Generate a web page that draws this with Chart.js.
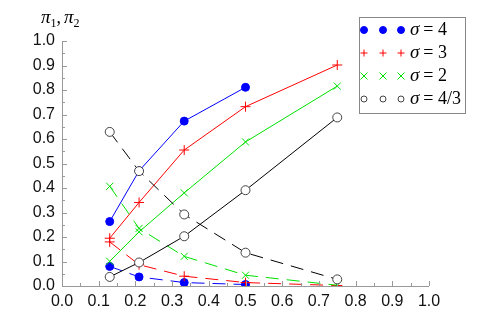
<!DOCTYPE html>
<html>
<head>
<meta charset="utf-8">
<script src="https://cdn.jsdelivr.net/npm/chart.js@4"></script>
<style>
  body { margin: 0; background: #fff; }
  #wrap { width: 491px; height: 327px; }
</style>
</head>
<body>
<div id="wrap"><canvas id="grafico" width="491" height="327"></canvas></div>
<script>
// x positions of the points
const xVals = [0.13, 0.21, 0.333, 0.5, 0.75];

// pi_1 (solid) and pi_2 (dashed) for each sigma
const pi1_s4 = [0.263, 0.47, 0.673, 0.811];
const pi2_s4 = [0.080, 0.037, 0.014, 0.006];
const pi1_s3 = [0.195, 0.341, 0.555, 0.732, 0.902];
const pi2_s3 = [0.180, 0.087, 0.040, 0.014, 0.002];
const pi1_s2 = [0.101, 0.221, 0.380, 0.588, 0.816];
const pi2_s2 = [0.407, 0.235, 0.121, 0.044, 0.003];
const pi1_s43 = [0.037, 0.096, 0.203, 0.391, 0.688];
const pi2_s43 = [0.629, 0.469, 0.292, 0.136, 0.027];

const legendLabels = ['= 4', '= 3', '= 2', '= 4/3'];

function pares(ys) {
  return ys.map((y, i) => ({ x: xVals[i], y: y }));
}

const estilos = [
  { color: '#0000ff', pointStyle: 'circle', radius: 4, fill: '#0000ff' },
  { color: '#ff0000', pointStyle: 'cross', radius: 5, fill: '#ff0000' },
  { color: '#00e000', pointStyle: 'crossRot', radius: 5, fill: '#00e000' },
  { color: '#000000', pointStyle: 'circle', radius: 4.5, fill: '#ffffff' }
];

const series = [[pi1_s4, pi2_s4], [pi1_s3, pi2_s3], [pi1_s2, pi2_s2], [pi1_s43, pi2_s43]];

const serif = '"Liberation Serif", "DejaVu Serif", serif';

const datasets = [];
series.forEach((par, k) => {
  const e = estilos[k];
  par.forEach((ys, j) => {
    datasets.push({
      data: pares(ys),
      showLine: true,
      order: 10 - k,   // black on top
      borderColor: e.color,
      borderWidth: 1,
      borderDash: j === 1 ? [13, 8] : [],
      pointStyle: e.pointStyle,
      pointRadius: e.radius,
      pointBorderColor: k === 3 ? '#444' : e.color,
      pointBackgroundColor: e.fill,
      pointBorderWidth: 1,
      tension: 0
    });
  });
});

// small tick marks drawn inside the plot, legend box and axis title
const extras = {
  id: 'extras',
  afterDraw(chart) {
    const c = chart.ctx;
    const xs = chart.scales.x, ys = chart.scales.y;
    const a = chart.chartArea;
    c.save();
    c.strokeStyle = '#999';
    c.lineWidth = 1;
    c.beginPath();
    c.moveTo(a.left + 0.5, a.top);
    c.lineTo(a.left + 0.5, a.bottom + 0.5);
    c.lineTo(a.right, a.bottom + 0.5);
    for (let i = 0; i <= 20; i++) {
      const v = i / 20;
      const len = i % 2 === 0 ? 5 : 3;
      const px = Math.round(xs.getPixelForValue(v)) + 0.5;
      c.moveTo(px, a.bottom);
      c.lineTo(px, a.bottom - len);
      const py = Math.round(ys.getPixelForValue(v)) + 0.5;
      c.moveTo(a.left, py);
      c.lineTo(a.left + len, py);
    }
    c.stroke();

    // axis title pi_1, pi_2
    c.fillStyle = '#000';
    c.textBaseline = 'alphabetic';
    c.textAlign = 'left';
    let x = 41;
    const base = 23;
    c.font = 'italic 19px ' + serif;
    c.fillText('π', x, base); x += c.measureText('π').width;
    c.font = '12px ' + serif;
    c.fillText('1', x, base + 4); x += c.measureText('1').width;
    c.font = '18px ' + serif;
    c.fillText(',', x, base); x += c.measureText(',').width + 3;
    c.font = 'italic 19px ' + serif;
    c.fillText('π', x, base); x += c.measureText('π').width;
    c.font = '12px ' + serif;
    c.fillText('2', x, base + 4);

    // legend
    c.fillStyle = '#fff';
    c.fillRect(359, 17, 106, 96);
    c.strokeStyle = '#888';
    c.strokeRect(359.5, 17.5, 106, 96);
    const rows = [30, 53, 76, 99];
    const mx = [364, 383, 401];
    rows.forEach((ry, k) => {
      const e = estilos[k];
      mx.forEach(px => {
        c.strokeStyle = k === 3 ? '#444' : e.color;
        c.fillStyle = e.fill;
        c.lineWidth = 1;
        const r = k === 3 ? 3 : 3.5;
        c.beginPath();
        if (e.pointStyle === 'circle') {
          c.arc(px, ry, r, 0, Math.PI * 2);
          c.fill();
          c.stroke();
        } else if (e.pointStyle === 'cross') {
          c.moveTo(px - r, ry); c.lineTo(px + r, ry);
          c.moveTo(px, ry - r); c.lineTo(px, ry + r);
          c.stroke();
        } else {
          c.moveTo(px - r, ry - r); c.lineTo(px + r, ry + r);
          c.moveTo(px - r, ry + r); c.lineTo(px + r, ry - r);
          c.stroke();
        }
      });
      c.fillStyle = '#000';
      c.textBaseline = 'middle';
      let tx = 410;
      c.font = 'italic 19px ' + serif;
      c.fillText('σ', tx, ry);
      tx += c.measureText('σ').width + 4;
      c.font = '18px ' + serif;
      c.fillText(legendLabels[k], tx, ry);
    });
    c.restore();
  }
};

const ctx = document.getElementById('grafico');
let grafico = new Chart(ctx, {
  type: 'scatter',
  data: { datasets: datasets },
  options: {
    responsive: false,
    animation: false,
    layout: { padding: { top: 41, right: 62, left: 0, bottom: 0 } },
    plugins: { legend: { display: false }, tooltip: { enabled: false } },
    scales: {
      x: {
        type: 'linear',
        min: 0,
        max: 1,
        grid: { display: false, drawTicks: false },
        border: { display: false },
        afterFit(s) { s.height = 41; },
        ticks: {
          stepSize: 0.1,
          padding: 6,
          color: '#111',
          font: { family: '"Liberation Sans"', size: 16 },
          maxRotation: 0,
          callback: v => v.toFixed(1)
        }
      },
      y: {
        min: 0,
        max: 1,
        grid: { display: false, drawTicks: false },
        border: { display: false },
        afterFit(s) { s.width = 62; },
        ticks: {
          stepSize: 0.1,
          padding: 7,
          color: '#111',
          font: { family: '"Liberation Sans"', size: 16 },
          callback: v => v.toFixed(1)
        }
      }
    }
  },
  plugins: [extras]
});
</script>
</body>
</html>
